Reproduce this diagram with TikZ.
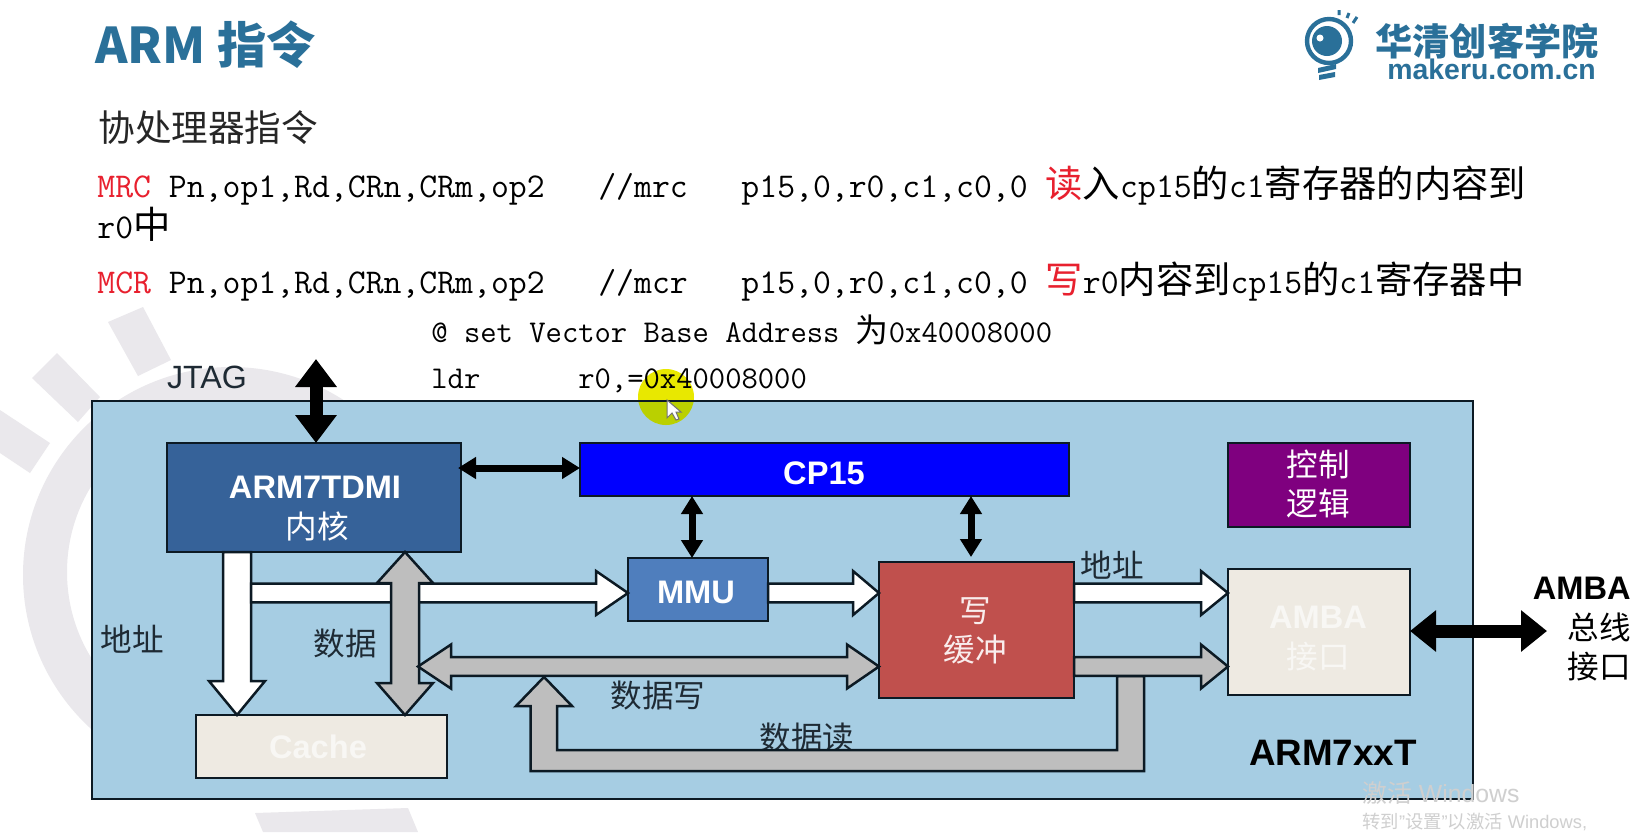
\documentclass[tikz,border=0pt]{standalone}
\usepackage{fontspec}
\usetikzlibrary{arrows.meta,calc}
\setmainfont{Liberation Sans}
\newfontfamily\cjk{Noto Sans CJK SC}
\newcommand{\fs}[1]{\fontsize{#1}{#1}\selectfont}
\newcommand{\cz}[1]{{\cjk\fs{18.65}#1}}
\newcommand{\cy}[1]{{\cjk\fs{16.5}#1}}
\definecolor{bluT}{HTML}{2A7099}
\definecolor{redT}{HTML}{E8202E}
\definecolor{wm}{HTML}{EAE8EC}
\definecolor{bord}{HTML}{0C1A24}
\definecolor{panel}{HTML}{A6CDE3}
\definecolor{coreC}{HTML}{366299}
\definecolor{mmuC}{HTML}{4F7EBD}
\definecolor{wbC}{HTML}{C0504D}
\definecolor{ctlC}{HTML}{7F007F}
\definecolor{pale}{HTML}{EEEAE2}
\definecolor{grayA}{HTML}{BEBEBE}
\definecolor{inkT}{HTML}{1E2A34}
\definecolor{winT}{HTML}{CFCFCF}
\definecolor{hlA}{HTML}{E8E800}
\definecolor{hlB}{HTML}{BAD000}
% block arrows
\newcommand{\HS}[4]{\draw[#1] let \p1=(#2),\p2=(#3) in (\x1,\y1+4.7pt) -- (\x2-#4,\y1+4.7pt) -- (\x2-#4,\y1+11pt) -- (\x2,\y1) -- (\x2-#4,\y1-11pt) -- (\x2-#4,\y1-4.7pt) -- (\x1,\y1-4.7pt) -- cycle;}
\newcommand{\HD}[5]{\draw[#1] let \p1=(#2),\p2=(#3) in (\x1,\y1) -- (\x1+#4,\y1+11pt) -- (\x1+#4,\y1+4.7pt) -- (\x2-#5,\y1+4.7pt) -- (\x2-#5,\y1+11pt) -- (\x2,\y1) -- (\x2-#5,\y1-11pt) -- (\x2-#5,\y1-4.7pt) -- (\x1+#4,\y1-4.7pt) -- (\x1+#4,\y1-11pt) -- cycle;}
\newcommand{\VS}[4]{\draw[#1] let \p1=(#2),\p2=(#3) in (\x1-7pt,\y1) -- (\x1-7pt,\y2+#4) -- (\x1-14pt,\y2+#4) -- (\x1,\y2) -- (\x1+14pt,\y2+#4) -- (\x1+7pt,\y2+#4) -- (\x1+7pt,\y1) -- cycle;}
\newcommand{\VD}[5]{\draw[#1] let \p1=(#2),\p2=(#3) in (\x1,\y1) -- (\x1-14pt,\y1-#4) -- (\x1-7pt,\y1-#4) -- (\x1-7pt,\y2+#5) -- (\x1-14pt,\y2+#5) -- (\x1,\y2) -- (\x1+14pt,\y2+#5) -- (\x1+7pt,\y2+#5) -- (\x1+7pt,\y1-#4) -- (\x1+14pt,\y1-#4) -- cycle;}
\tikzset{
  box/.style={draw=bord,line width=1.4pt,inner sep=0pt,outer sep=0pt,anchor=center},
  txt/.style={inner sep=0pt,anchor=center},
  line/.style={inner sep=0pt,anchor=base west,text=black},
  whiteblk/.style={draw=bord,line width=1.25pt,fill=white,line join=miter},
  grayblk/.style={draw=bord,line width=1.25pt,fill=grayA,line join=miter},
  lab/.style={txt,text=inkT,font=\cjk\fs{15.8}},
  wlab/.style={txt,text=white,font=\cjk\fs{15.8}},
  bsans/.style={txt,font=\bfseries\fs{16.3}},
}
\begin{document}
\begin{tikzpicture}[x=0.5pt,y=-0.5pt]
\useasboundingbox (0,0) rectangle (1649,832);
\fill[white] (0,0) rectangle (1649,832);
% background watermark
\fill[wm,even odd rule] (231,575) circle[radius=208] (231,572) circle[radius=164];
\fill[wm] (108,322) -- (143,307) -- (171,360) -- (138,376) -- cycle;
\fill[wm] (32,378) -- (57,353) -- (100,397) -- (78,422) -- cycle;
\fill[wm] (0,410) -- (50,443) -- (30,473) -- (0,453) -- cycle;
\fill[wm] (255,813) -- (408,808) -- (418,832) -- (263,832) -- cycle;
% panel
\node[box,fill=panel,minimum width=690.5pt,minimum height=199pt] (outer) at (782.5,600) {};
% pointer highlight
\begin{scope}
  \clip (600,360) rectangle (740,401);
  \fill[hlA] (666,397) circle[radius=28];
\end{scope}
\begin{scope}
  \clip (600,401) rectangle (740,440);
  \fill[hlB] (666,397) circle[radius=28];
\end{scope}
\draw[draw=bord,line width=1.4pt] (outer.north west) -- (outer.north east);
% title and text
\node[line,text=bluT,font=\cjk\bfseries\fs{24.6}] (title) at (95,63) {ARM 指令};
\node[line,font=\cjk\fs{18.3},text=black!85] (sub) at (98,141) {协处理器指令};
\node[line] (l1) at (97,197) {\fs{17.37}\ttfamily\textcolor{redT}{MRC}\ Pn,op1,Rd,CRn,CRm,op2\ \ \ //mrc\ \ \ p15,0,r0,c1,c0,0\ \textcolor{redT}{\cz{读}}\cz{入}cp15\cz{的}c1\cz{寄存器的内容到}};
\node[line] (l2) at (97,238) {\fs{17.37}\ttfamily r0\cz{中}};
\node[line] (l3) at (97,293) {\fs{17.37}\ttfamily\textcolor{redT}{MCR}\ Pn,op1,Rd,CRn,CRm,op2\ \ \ //mcr\ \ \ p15,0,r0,c1,c0,0\ \textcolor{redT}{\cz{写}}r0\cz{内容到}cp15\cz{的}c1\cz{寄存器中}};
\node[line] (l4) at (431,342) {\fs{15.85}\ttfamily @\ set\ Vector\ Base\ Address\ \cy{为}0x40008000};
\node[line] (l5) at (431,388) {\fs{15.85}\ttfamily ldr\ \ \ \ \ \ r0,=0x40008000};
% cursor
\draw[draw=black!55,fill=white,line width=0.5pt] (667,400) -- (667,418) -- (672,413) -- (676,420) -- (679,419) -- (676,412) -- (681,412) -- cycle;
% logo
\draw[bluT,line width=2.2pt] (1329,41) circle[radius=22];
\fill[bluT] (1327,41) circle[radius=15];
\fill[white] (1320,38) circle[radius=3.5];
\fill[bluT] (1318,68) -- (1336,64) -- (1336,69) -- (1318,73) -- cycle;
\fill[bluT] (1319,75) -- (1335,72) -- (1335,77) -- (1319,80) -- cycle;
\draw[bluT,line width=1.5pt] (1339,10) -- (1339,15) (1349,13) -- (1347,18) (1357,17) -- (1353,23);
\node[line,text=bluT,font=\cjk\bfseries\fs{18.6}] (logoA) at (1375,55) {华清创客学院};
\node[line,text=bluT,font=\bfseries\fs{14.2}] (logoB) at (1387,79) {makeru.com.cn};
% blocks
\node[box,fill=coreC,minimum width=147pt,minimum height=54.5pt] (arm) at (314,497.5) {};
\node[box,fill=blue,minimum width=244.5pt,minimum height=26.5pt] (cp15) at (824.5,469.5) {};
\node[box,fill=mmuC,minimum width=70pt,minimum height=31.5pt] (mmu) at (698,589.5) {};
\node[box,fill=wbC,minimum width=97.5pt,minimum height=68pt] (wb) at (976.5,630) {};
\node[box,fill=ctlC,minimum width=91pt,minimum height=42pt] (ctl) at (1319,485) {};
\node[box,fill=pale,minimum width=91pt,minimum height=63pt] (amba) at (1319,632) {};
\node[box,fill=pale,minimum width=125.5pt,minimum height=31.5pt] (cache) at (321.5,746.5) {};
% text under the read path
\node[lab] (rdL) at (807,738) {数据读};
% helper coordinates
\coordinate (addrY) at (251,593);
\coordinate (dataY) at (418,666.5);
\coordinate (downX) at (237,600);
\coordinate (dataX) at (405,600);
\coordinate (jtagTop) at (316,359);
\coordinate (ccY) at (500,468);
\coordinate (mmuX) at (692,527);
\coordinate (wbX) at (971,527);
\coordinate (busEnd) at (1547,631);
% white address arrows
\VS{whiteblk}{downX |- arm.south}{downX |- cache.north}{17pt}
\HS{whiteblk}{addrY}{mmu.west |- addrY}{16pt}
\HS{whiteblk}{mmu.east |- addrY}{wb.west |- addrY}{13pt}
\HS{whiteblk}{wb.east |- addrY}{amba.west |- addrY}{13.5pt}
% gray data arrows
\VD{grayblk}{dataX |- arm.south}{dataX |- cache.north}{15.5pt}{16pt}
\draw[grayblk] (544,677) -- (516,706) -- (530.5,706) -- (530.5,771) -- (1144,771) -- (1144,676) -- (1117,676) -- (1117,750) -- (557,750) -- (557,706) -- (572,706) -- cycle;
\HD{grayblk}{dataY}{wb.west |- dataY}{16.5pt}{16pt}
\HS{grayblk}{wb.east |- dataY}{amba.west |- dataY}{13.5pt}
% black arrows
\draw[{Triangle[length=14pt,width=20pt]}-{Triangle[length=14pt,width=20pt]},line width=6.5pt,black] (jtagTop) -- (jtagTop |- arm.north);
\draw[{Triangle[length=9pt,width=10.5pt]}-{Triangle[length=9pt,width=10.5pt]},line width=3.5pt,black,shorten <=-1.5pt] (arm.east |- ccY) -- (cp15.west |- ccY);
\draw[{Triangle[length=9pt,width=10.5pt]}-{Triangle[length=9pt,width=10.5pt]},line width=3.5pt,black] (mmuX |- cp15.south) -- (mmuX |- mmu.north);
\draw[{Triangle[length=9pt,width=10.5pt]}-{Triangle[length=9pt,width=10.5pt]},line width=3.5pt,black,shorten >=2.5pt] (wbX |- cp15.south) -- (wbX |- wb.north);
\draw[{Triangle[length=13pt,width=20pt]}-{Triangle[length=13pt,width=20pt]},line width=6.5pt,black] (amba.east |- busEnd) -- (busEnd);
% block labels
\node[bsans,text=white] (armA) at (315,487) {ARM7TDMI};
\node[wlab] (armB) at (317,526) {内核};
\node[bsans,text=white] (cpA) at (824,473) {CP15};
\node[bsans,text=white] (mmuA) at (696,592) {MMU};
\node[wlab,text=white!90!wbC] (wbA) at (975,611) {写};
\node[wlab,text=white!90!wbC] (wbB) at (975,650) {缓冲};
\node[wlab] (ctlA) at (1318,464) {控制};
\node[wlab] (ctlB) at (1318,503) {逻辑};
\node[bsans,text=white!60!pale] (ambaA) at (1318,617) {AMBA};
\node[wlab,text=white!60!pale] (ambaB) at (1318,657) {接口};
\node[bsans,text=white!60!pale] (cacheA) at (318,747) {Cache};
% free labels
\node[txt,text=inkT,font=\fs{16.1}] (jtagL) at (207,377) {JTAG};
\node[lab] (addrL) at (132,639) {地址};
\node[lab] (dataL) at (345,644) {数据};
\node[lab] (wrL) at (658,696) {数据写};
\node[lab] (addrR) at (1112,565) {地址};
\node[txt,font=\bfseries\fs{16.3},anchor=east,text=black] (ambaR) at (1631,588) {AMBA};
\node[lab,anchor=east,text=black] (busR) at (1631,627) {总线};
\node[lab,anchor=east,text=black] (ifR) at (1631,667) {接口};
\node[txt,font=\bfseries\fs{18.4},text=black] (chip) at (1333,753) {ARM7xxT};
% activation notice
\node[line,text=winT,font=\fs{12.4}] (winA) at (1362,802) {{\cjk 激活} Windows};
\node[line,text=winT,font=\fs{9.15}] (winB) at (1362,828) {{\cjk 转到}"{\cjk 设置}"{\cjk 以激活} Windows,};
\end{tikzpicture}
\end{document}
